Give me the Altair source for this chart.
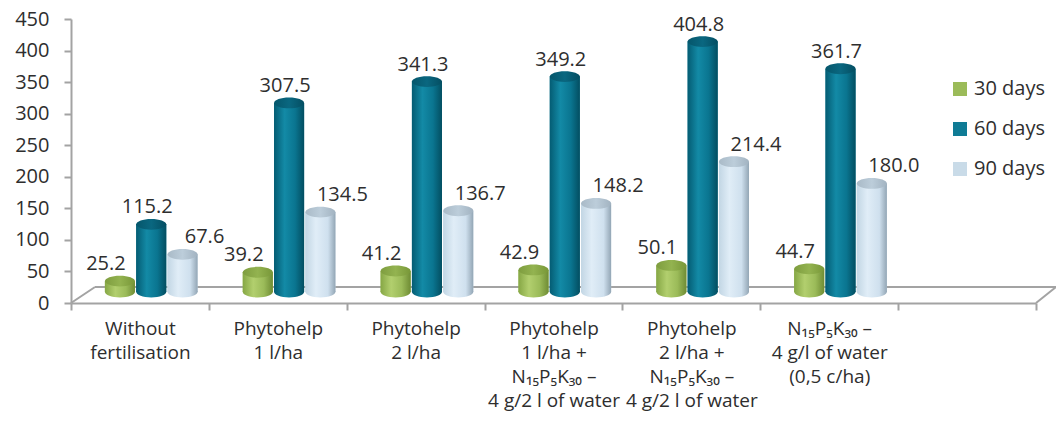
import altair as alt
import pandas as pd

# Treatments (last band left empty, as on the chart's floor)
categories = [
    "Without\nfertilisation",
    "Phytohelp\n1 l/ha",
    "Phytohelp\n2 l/ha",
    "Phytohelp\n1 l/ha +\nN₁₅P₅K₃₀ –\n4 g/2 l of water",
    "Phytohelp\n2 l/ha +\nN₁₅P₅K₃₀ –\n4 g/2 l of water",
    "N₁₅P₅K₃₀ –\n4 g/l of water\n(0,5 c/ha)",
]
empty_band = " "
series = ["30 days", "60 days", "90 days"]
days_30 = [25.2, 39.2, 41.2, 42.9, 50.1, 44.7]
days_60 = [115.2, 307.5, 341.3, 349.2, 404.8, 361.7]
days_90 = [67.6, 134.5, 136.7, 148.2, 214.4, 180.0]
y_ticks = [0, 50, 100, 150, 200, 250, 300, 350, 400, 450]

rows = []
for s, vals in zip(series, [days_30, days_60, days_90]):
    for c, v in zip(categories, vals):
        rows.append({"treatment": c, "period": s, "value": v})
df = pd.DataFrame(rows)
df["zero"] = 0.0

FONT = "Open Sans"
TEXT = "#2e2e2e"
AXIS_GREY = "#a3a3a3"

legend_colors = ["#9bbb59", "#0f7b95", "#c9dbe8"]


def grad(stops):
    return alt.Gradient(
        gradient="linear", x1=0, x2=1, y1=0, y2=0,
        stops=[alt.GradientStop(offset=o, color=c) for o, c in stops],
    )


body = {
    "30 days": grad([(0, "#86a745"), (0.35, "#b2cf6e"), (0.7, "#9bbb59"), (1, "#6f8c34")]),
    "60 days": grad([(0, "#045c73"), (0.35, "#138aa6"), (0.7, "#0a7590"), (1, "#034e61")]),
    "90 days": grad([(0, "#c2d6e4"), (0.35, "#e0edf7"), (0.75, "#cfe0ee"), (1, "#93a6b5")]),
}
cap = {
    "30 days": grad([(0, "#7e9d3f"), (0.5, "#93b350"), (1, "#789738")]),
    "60 days": grad([(0, "#05566b"), (0.5, "#0a6780"), (1, "#044e62")]),
    "90 days": grad([(0, "#a9bac7"), (0.5, "#bccdda"), (1, "#a2b3c1")]),
}
label_dx = {"30 days": -14, "60 days": -4, "90 days": 22}

ELLIPSE = "M -1 0 A 1 0.36 0 1 0 1 0 A 1 0.36 0 1 0 -1 0 Z"

x_enc = alt.X(
    "treatment:N",
    sort=categories + [empty_band],
    scale=alt.Scale(domain=categories + [empty_band], paddingInner=0, paddingOuter=0),
    axis=alt.Axis(
        title=None,
        labelAngle=0,
        labelExpr="isValid(datum.value) ? split(datum.value, '\\n') : ''",
        labelFont=FONT,
        labelFontSize=19,
        labelColor=TEXT,
        labelLineHeight=24,
        labelPadding=9,
        labelOverlap=False,
        labelBound=False,
        tickBand="extent",
        tickSize=7,
        tickColor=AXIS_GREY,
        tickWidth=2,
        domainColor=AXIS_GREY,
        domainWidth=2,
    ),
)
xo_enc = alt.XOffset(
    "period:N",
    sort=series,
    scale=alt.Scale(domain=series, paddingInner=0.04, paddingOuter=0.722, align=0.75),
)
y_scale = alt.Scale(domain=[0, 450], nice=False, zero=True)
y_axis = alt.Axis(
    title=None,
    values=y_ticks,
    grid=False,
    labelFont=FONT,
    labelFontSize=20,
    labelColor=TEXT,
    labelPadding=15,
    labelOverlap=False,
    labelBound=False,
    labelFlush=False,
    tickSize=7,
    tickColor=AXIS_GREY,
    tickWidth=2,
    domainColor=AXIS_GREY,
    domainWidth=2,
)
y_enc = alt.Y("value:Q", scale=y_scale, axis=y_axis)
y_zero = alt.Y("zero:Q", scale=y_scale, axis=y_axis)

base = alt.Chart(df)

# solid bars carry the legend; shaded cylinders are drawn over them
legend_bars = base.mark_bar(yOffset=-6, y2Offset=-11).encode(
    x=x_enc,
    xOffset=xo_enc,
    y=y_enc,
    y2="zero:Q",
    color=alt.Color(
        "period:N",
        scale=alt.Scale(domain=series, range=legend_colors),
        legend=alt.Legend(
            title=None,
            orient="none",
            legendX=879,
            legendY=60,
            symbolType="square",
            symbolSize=196,
            symbolStrokeWidth=0,
            labelFont=FONT,
            labelFontSize=20,
            labelColor=TEXT,
            labelOffset=4,
            rowPadding=20,
        ),
    ),
)

layers = [legend_bars]
for s in series:
    sub = base.transform_filter(alt.datum.period == s)
    bottom = sub.mark_point(
        shape=ELLIPSE, filled=True, size=900, fill=body[s], strokeWidth=0, opacity=1, yOffset=-11
    ).encode(x=x_enc, xOffset=xo_enc, y=y_zero)
    bar = sub.mark_bar(fill=body[s], yOffset=-6, y2Offset=-11).encode(
        x=x_enc, xOffset=xo_enc, y=y_enc, y2="zero:Q"
    )
    top = sub.mark_point(
        shape=ELLIPSE, filled=True, size=900, fill=cap[s], strokeWidth=0, opacity=1, yOffset=-6
    ).encode(x=x_enc, xOffset=xo_enc, y=y_enc)
    label = sub.mark_text(
        font=FONT, fontSize=20, color=TEXT, baseline="middle", dy=-23, dx=label_dx[s]
    ).encode(x=x_enc, xOffset=xo_enc, y=y_enc, text=alt.Text("value:Q", format=".1f"))
    layers += [bottom, bar, top, label]

# floor edges of the 3-D plot base
floor_src = alt.Chart(pd.DataFrame({"k": [0]}))
floor_back = floor_src.mark_rule(color=AXIS_GREY, strokeWidth=2).encode(
    x=alt.value(24), x2=alt.value(985), y=alt.value(268), y2=alt.value(268)
)
floor_left = floor_src.mark_rule(color=AXIS_GREY, strokeWidth=2).encode(
    x=alt.value(0), x2=alt.value(24), y=alt.value(284), y2=alt.value(268)
)
floor_right = floor_src.mark_rule(color=AXIS_GREY, strokeWidth=2).encode(
    x=alt.value(965), x2=alt.value(985), y=alt.value(284), y2=alt.value(268)
)

chart = (
    alt.layer(floor_back, floor_left, floor_right, *layers)
    .properties(
        width=965,
        height=284,
        autosize=alt.AutoSizeParams(type="none"),
        padding={"left": 71, "top": 19, "right": 20, "bottom": 118},
        background="white",
    )
    .configure_view(stroke=None)
)

chart.save("out.html", embed_options={"renderer": "svg", "actions": False})
